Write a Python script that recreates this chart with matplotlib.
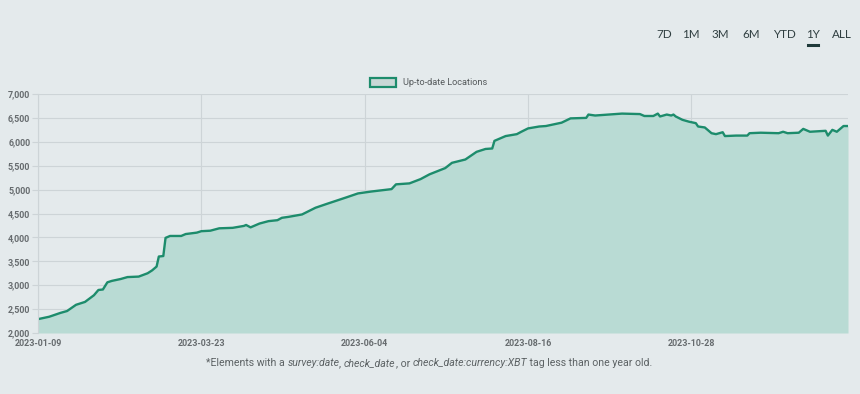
import numpy as np
import matplotlib
matplotlib.use("Agg")
import matplotlib.pyplot as plt
from matplotlib.patches import Rectangle

# values: days after the first date, location count
start_date = "2023-01-09"
day_offsets = [0, 5, 10, 13, 17, 21, 25, 27, 29, 31, 33, 37, 40, 45, 49, 51, 53, 54, 56, 57,
               59, 64, 66, 71, 73, 77, 81, 87, 92, 93, 95, 99, 103, 107, 109, 112, 118, 124,
               129, 138, 143, 149, 158, 160, 166, 171, 175, 182, 185, 191, 196, 200, 203, 204,
               209, 214, 216, 219, 224, 227, 234, 238, 245, 246, 249, 261, 269, 271, 275, 277,
               278, 281, 283, 284, 285, 288, 291, 294, 295, 298, 301, 303, 306, 307, 312, 317,
               318, 323, 331, 333, 335, 340, 342, 345, 352, 353, 355, 357, 360, 362]
locations = [2290, 2340, 2420, 2460, 2590, 2650, 2790, 2900, 2910, 3060, 3090, 3130, 3170, 3180,
             3250, 3310, 3390, 3600, 3610, 3990, 4030, 4030, 4070, 4100, 4130, 4140, 4190, 4200,
             4240, 4260, 4210, 4290, 4340, 4360, 4410, 4430, 4480, 4620, 4700, 4840, 4920, 4960,
             5010, 5110, 5130, 5220, 5320, 5450, 5560, 5630, 5790, 5850, 5860, 6020, 6120, 6160,
             6210, 6280, 6320, 6330, 6400, 6490, 6500, 6570, 6550, 6590, 6580, 6540, 6540, 6590,
             6530, 6570, 6550, 6570, 6530, 6460, 6420, 6390, 6320, 6300, 6180, 6160, 6200, 6120,
             6130, 6130, 6180, 6190, 6180, 6210, 6180, 6190, 6270, 6210, 6230, 6130, 6250, 6210,
             6330, 6330]
tick_dates = ["2023-01-09", "2023-03-23", "2023-06-04", "2023-08-16", "2023-10-28"]
range_buttons = ["7D", "1M", "3M", "6M", "YTD", "1Y", "ALL"]
active_button = "1Y"
series_label = "Up-to-date Locations"
footnote = [("*Elements with a ", "normal"), ("survey:date", "italic"), (", ", "normal"),
            ("check_date", "italic"), (", or ", "normal"), ("check_date:currency:XBT", "italic"),
            (" tag less than one year old.", "normal")]

bg = "#e4eaec"
line_col = "#1d8c6c"
fill_col = "#b9dbd4"
grid_col = "#cdd4d7"
label_col = "#666b6e"
note_col = "#5c6264"

dates = np.datetime64(start_date) + np.array(day_offsets).astype("timedelta64[D]")

fig = plt.figure(figsize=(8.6, 3.94), dpi=100, facecolor=bg)
ax = fig.add_axes([38 / 860, 1 - 333 / 394, 810 / 860, 239 / 394], facecolor=bg)

ax.fill_between(dates, locations, 2000, color=fill_col, lw=0)
ax.plot(dates, locations, color=line_col, lw=1.7, solid_joinstyle="round")

ax.set_xlim(dates[0], dates[-1])
ax.set_ylim(2000, 7000)
ax.set_yticks(np.arange(2000, 7001, 500))
ax.yaxis.set_major_formatter(matplotlib.ticker.FuncFormatter(lambda v, p: f"{int(v):,}"))
ax.set_xticks([np.datetime64(d) for d in tick_dates])
ax.set_xticklabels(tick_dates)

ax.grid(True, color=grid_col, lw=0.8)
ax.set_axisbelow(True)
for s in ["top", "right", "bottom"]:
    ax.spines[s].set_visible(False)
ax.spines["left"].set_color(grid_col)
ax.tick_params(axis="both", length=4, width=0.8, color=grid_col, labelcolor=label_col,
               labelsize=6.4, pad=1.5)
ax.tick_params(axis="x", length=0, pad=4)
for lab in ax.get_xticklabels() + ax.get_yticklabels():
    lab.set_fontfamily("Roboto")
    lab.set_fontweight("bold")

# legend drawn like the chart.js one
fig.patches.append(Rectangle((370 / 860, 1 - 87 / 394), 26 / 860, 9 / 394,
                             transform=fig.transFigure, facecolor="#c9d8d6",
                             edgecolor=line_col, lw=1.6))
fig.text(403 / 860, 1 - 82.5 / 394, series_label, fontsize=6.6, color="#555a5c",
         family="Roboto", va="center", ha="left")

# range selector buttons
btn_x = [664, 691, 720, 751, 784, 813, 842]
for name, bx in zip(range_buttons, btn_x):
    fig.text(bx / 860, 1 - 35 / 394, name, fontsize=8.4, color="#2f3e40",
             family="Lato", ha="center", va="center")
    if name == active_button:
        fig.add_artist(plt.Line2D([(bx - 5) / 860, (bx + 5) / 860], [1 - 45 / 394] * 2,
                                  color="#1f3a3a", lw=2.2, transform=fig.transFigure))

# footnote, each piece starts where the last one ended
anchor = fig.text(206 / 860, 1 - 368 / 394, footnote[0][0], fontsize=7.55, color=note_col,
                  family="Roboto", va="bottom")
for txt, st in footnote[1:]:
    anchor = ax.annotate(txt, xy=(1, 0), xycoords=anchor, va="bottom", ha="left",
                         fontsize=7.55, color=note_col, family="Roboto", style=st,
                         annotation_clip=False)

fig.savefig("out.png", dpi=100, facecolor=bg)
